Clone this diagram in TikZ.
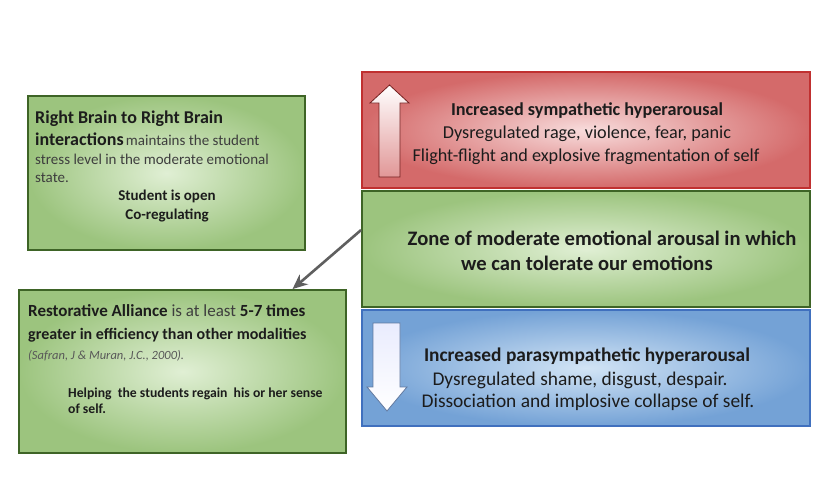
\documentclass[tikz,border=0pt]{standalone}
\usepackage{fontspec}
\setmainfont{Carlito}
\usetikzlibrary{arrows.meta}
\definecolor{gout}{RGB}{156,196,126}
\definecolor{gin}{RGB}{224,239,212}
\definecolor{gbord}{RGB}{62,100,38}
\definecolor{rout}{RGB}{212,106,106}
\definecolor{rin}{RGB}{248,220,220}
\definecolor{rbord}{RGB}{192,48,48}
\definecolor{bout}{RGB}{116,162,214}
\definecolor{bin}{RGB}{210,228,245}
\definecolor{bbord}{RGB}{64,112,190}
\definecolor{txt}{RGB}{28,28,28}
\definecolor{txtg}{RGB}{62,62,62}
\definecolor{cite}{RGB}{88,88,88}
\definecolor{conn}{RGB}{95,95,95}
\tikzset{
  greenbox/.style={draw=gbord, line width=1.8pt, inner color=gin, outer color=gout, rectangle, inner sep=0pt},
  redbox/.style={draw=rbord, line width=1.8pt, inner color=rin, outer color=rout, rectangle, inner sep=0pt},
  bluebox/.style={draw=bbord, line width=1.8pt, inner color=bin, outer color=bout, rectangle, inner sep=0pt},
  lbl/.style={inner sep=0pt, text=txt},
  connector/.style={draw=conn, line width=2.6pt, -{Stealth[length=15pt,width=13pt]}}
}
\newcommand{\fs}[1]{\fontsize{#1}{#1}\selectfont}
\begin{document}
\begin{tikzpicture}[x=1pt,y=-1pt]
\path[use as bounding box, fill=white] (0,0) rectangle (830,490);

% boxes
\node[greenbox, minimum width=277pt, minimum height=154pt] (tl) at (166.5,173) {};
\node[greenbox, minimum width=327pt, minimum height=163pt] (bl) at (182.5,371.5) {};
\node[redbox, minimum width=448pt, minimum height=116pt] (red) at (586,130) {};
\node[greenbox, minimum width=448pt, minimum height=116pt] (mid) at (586,249) {};
\node[bluebox, minimum width=448pt, minimum height=116pt] (blue) at (586,368) {};

% block arrows
\shade[top color=white, bottom color=rout!70, draw=rbord!60!black, line width=0.8pt]
  (379,177) -- (379,103) -- (370,103) -- (389.5,85) -- (409,103) -- (400,103) -- (400,177) -- cycle;
\shade[top color=bin!70!blue!20, bottom color=white, draw=bbord!50!gray, line width=0.8pt]
  (373,323) -- (400,323) -- (400,387) -- (407,387) -- (387,411) -- (367,387) -- (373,387) -- cycle;

% top-left text
\node[lbl, anchor=base west] (tl1) at (35,123) {\fs{18}\bfseries Right Brain to Right Brain};
\node[lbl, anchor=base west] (tl2) at (35,145) {{\fs{18}\bfseries interactions} {\fs{15}\color{txtg}maintains the student}};
\node[lbl, anchor=base west, text=txtg] (tl3) at (35,164) {\fs{15}stress level in the moderate emotional};
\node[lbl, anchor=base west, text=txtg] (tl4) at (35,182) {\fs{15}state.};
\node[lbl, anchor=base] (tl5) at (167,200) {\fs{15}\bfseries Student is open};
\node[lbl, anchor=base] (tl6) at (167,219) {\fs{15}\bfseries Co-regulating};

% bottom-left text
\node[lbl, anchor=base west] (bl1) at (28,316) {\fs{17}{\bfseries Restorative Alliance} {\color{txtg}is at least} {\bfseries 5-7 times}};
\node[lbl, anchor=base west] (bl2) at (28,339) {\fs{16}\bfseries greater in efficiency than other modalities};
\node[lbl, anchor=base west, text=cite] (bl3) at (28,359) {\fs{12.5}\itshape (Safran, J \& Muran, J.C., 2000).};
\node[lbl, anchor=base west] (bl4) at (68,397) {\fs{13.7}\bfseries Helping\ \ the students regain\ \ his or her sense};
\node[lbl, anchor=base west] (bl5) at (68,413) {\fs{13.7}\bfseries of self.};

% red text
\node[lbl, anchor=base] (r1) at (587,115) {\fs{18.2}\bfseries Increased sympathetic hyperarousal};
\node[lbl, anchor=base] (r2) at (587,138) {\fs{18.2}Dysregulated rage, violence, fear, panic};
\node[lbl, anchor=base] (r3) at (586,161) {\fs{18.2}Flight-flight and explosive fragmentation of self};

% middle text
\node[lbl, anchor=base] (m1) at (602,245) {\fs{20.6}\bfseries Zone of moderate emotional arousal in which};
\node[lbl, anchor=base] (m2) at (587,270) {\fs{20.6}\bfseries we can tolerate our emotions};

% blue text
\node[lbl, anchor=base] (b1) at (587,361) {\fs{19.4}\bfseries Increased parasympathetic hyperarousal};
\node[lbl, anchor=base] (b2) at (580,385) {\fs{19.4}Dysregulated shame, disgust, despair.};
\node[lbl, anchor=base] (b3) at (588,407) {\fs{19.4}Dissociation and implosive collapse of self.};

% connector
\draw[connector] ([yshift=19pt]mid.west) -- ([xshift=110pt]bl.north);
\end{tikzpicture}
\end{document}
